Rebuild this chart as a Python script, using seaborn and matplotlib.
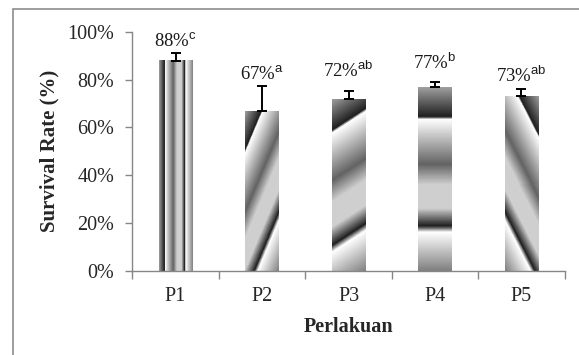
import numpy as np
import pandas as pd
import matplotlib
matplotlib.use("Agg")
import matplotlib.pyplot as plt
from matplotlib.colors import LinearSegmentedColormap
from matplotlib.patches import Rectangle
from matplotlib.ticker import PercentFormatter
import seaborn as sns

# ── Data ─────────────────────────────────────────────────────────────────────
CATEGORIES = ["P1", "P2", "P3", "P4", "P5"]
SURVIVAL   = [88, 67, 72, 77, 73]          # survival rate (%)
ERR_UP     = [3.3, 10.3, 3.3, 2.1, 3.2]    # upper error bar (%)
LETTERS    = ["c", "a", "ab", "b", "ab"]   # significance letters

# ── Styling (not data) ───────────────────────────────────────────────────────
LABEL_GAP  = [2.5, 2.6, 6.0, 5.4, 2.7]     # label baseline above error cap
FILL_ANGLE = [0, 22.8, 57, 90, 153]        # gradient direction per bar (deg, y down)
GREY = "#868686"

sns.set_style("white")
plt.rcParams["font.family"] = ["Liberation Serif", "DejaVu Serif"]
plt.rcParams["mathtext.fontset"] = "custom"
plt.rcParams["mathtext.rm"] = "Liberation Serif"
plt.rcParams["mathtext.sf"] = "Liberation Sans"

df = pd.DataFrame({"Perlakuan": CATEGORIES, "Survival": SURVIVAL})

fig = plt.figure(figsize=(5.79, 3.55), dpi=100)
ax = fig.add_axes([0.2285, 0.2375, 0.7468, 0.6724])

sns.barplot(data=df, x="Perlakuan", y="Survival", width=0.39, color="white",
            edgecolor="none", errorbar=None, ax=ax)
ax.set_xlim(-0.5, len(CATEGORIES) - 0.5)
ax.set_ylim(0, 100)

# office "chrome" style linear gradient, painted inside each bar
chrome = LinearSegmentedColormap.from_list("chrome", [
    (0.0, "#a0a0a0"), (0.16, "#1f1f1f"), (0.175, "#ffffff"), (0.42, "#636363"),
    (0.53, "#cfcfcf"), (0.66, "#cfcfcf"), (0.755, "#1f1f1f"), (0.79, "#ffffff"),
    (1.0, "#7f7f7f")], N=512)
fig.canvas.draw()
for p, ang in zip(ax.patches, FILL_ANGLE):
    x0, w, h = p.get_x(), p.get_width(), p.get_height()
    (px0, py0), (px1, py1) = ax.transData.transform([(x0, 0), (x0 + w, h)])
    nx, ny = int(round(px1 - px0)), int(round(py1 - py0))
    X, Y = np.meshgrid(np.arange(nx) + 0.5, np.arange(ny) + 0.5)
    c, s = np.cos(np.radians(ang)), np.sin(np.radians(ang))
    proj = c * X + s * Y
    corners = [c * cx + s * cy for cx in (0, nx) for cy in (0, ny)]
    t = (proj - min(corners)) / (max(corners) - min(corners))
    ax.imshow(t, cmap=chrome, vmin=0, vmax=1, extent=[x0, x0 + w, 0, h],
              origin="upper", aspect="auto", interpolation="nearest", zorder=2)
ax.set_xlim(-0.5, len(CATEGORIES) - 0.5)
ax.set_ylim(0, 100)

xs = np.arange(len(CATEGORIES))
ax.errorbar(xs, SURVIVAL, yerr=[np.zeros(len(xs)), ERR_UP], fmt="none",
            ecolor="black", elinewidth=1.4, capsize=3.5, capthick=1.4, zorder=3)

for i, (v, e, s) in enumerate(zip(SURVIVAL, ERR_UP, LETTERS)):
    ax.text(i, v + e + LABEL_GAP[i], f"{v}%$^{{\\mathsf{{{s}}}}}$",
            ha="center", va="baseline", fontsize=13.5, color="#1a1a1a", zorder=4)

# axes cosmetics
ax.yaxis.set_major_formatter(PercentFormatter(100, decimals=0))
ax.set_yticks(range(0, 101, 20))
ax.set_xticks(xs, CATEGORIES)
ax.set_xticks(np.arange(-0.5, len(CATEGORIES)), minor=True)
ax.tick_params(axis="x", which="major", bottom=True, length=0, pad=12, labelsize=14.5)
ax.tick_params(axis="x", which="minor", bottom=True, length=6, width=1, color=GREY)
ax.tick_params(axis="y", left=True, length=5, width=1, color=GREY, pad=8, labelsize=14.5)
for side in ["top", "right"]:
    ax.spines[side].set_visible(False)
for side in ["left", "bottom"]:
    ax.spines[side].set_color(GREY)
    ax.spines[side].set_linewidth(1)

ax.set_xlabel("Perlakuan", fontsize=14.5, fontweight="bold", labelpad=8)
ax.set_ylabel("Survival Rate (%)", fontsize=15, fontweight="bold", labelpad=6)

# outer chart-area border (runs off the right and bottom edges)
fig.add_artist(Rectangle((13.3 / 579, -0.5), 2, 1.5 - 9.3 / 355,
                         transform=fig.transFigure, fill=False,
                         edgecolor="#8c8c8c", linewidth=1.2))

fig.savefig("out.png", dpi=100)
